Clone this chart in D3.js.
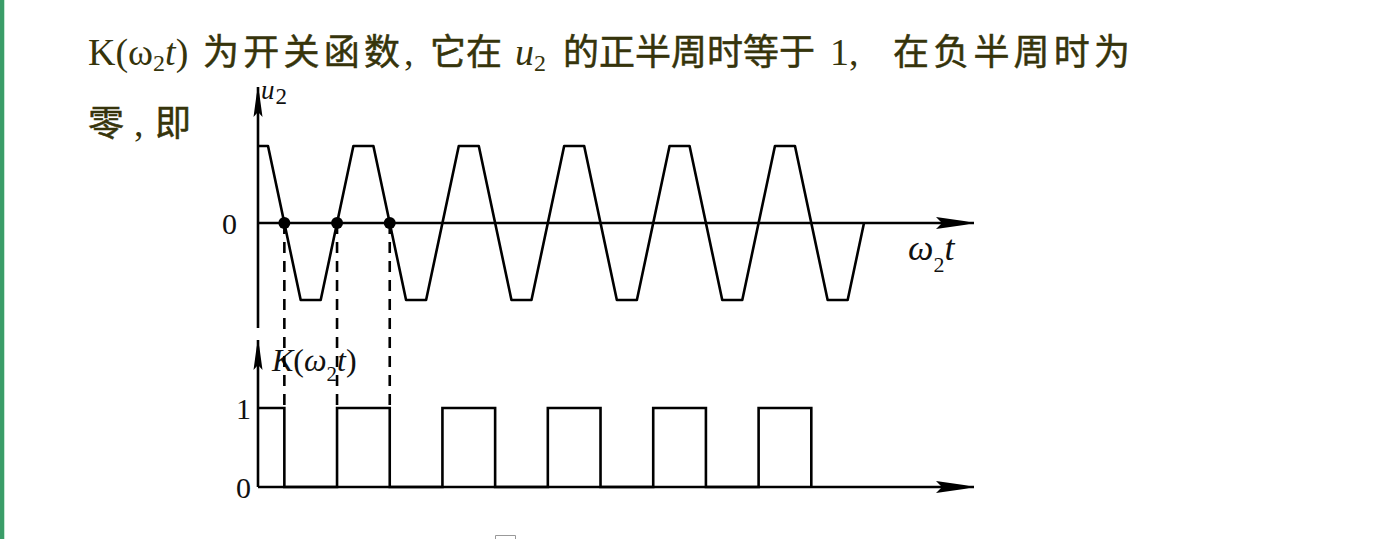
<!DOCTYPE html>
<html>
<head>
<meta charset="utf-8">
<script src="https://cdn.jsdelivr.net/npm/d3@7"></script>
<style>
  body { margin: 0; background: #fff; }
  svg { display: block; }
  .cjk { font-family: "Noto Sans CJK SC", sans-serif; }
  .lat { font-family: "Liberation Serif", "Times New Roman", serif; }
</style>
</head>
<body>
<div id="chart"></div>
<script>
// wave u2 vertices, x in units of pi (omega2 t / pi)
var waveX = [0, 0.19, 0.81, 1.19, 1.81, 2.19, 2.81, 3.19, 3.81, 4.19, 4.81, 5.19,
             5.81, 6.19, 6.81, 7.19, 7.81, 8.19, 8.81, 9.19, 9.81, 10.19, 10.81, 11.19, 11.5];
var waveU = [1, 1, -1, -1, 1, 1, -1, -1, 1, 1, -1, -1,
             1, 1, -1, -1, 1, 1, -1, -1, 1, 1, -1, -1, 0];

// zero crossings that get a dot and a dashed guide
var markedCross = [0.5, 1.5, 2.5];

// switching function K(w2 t): value holds until next switch
var switchX = [0, 0.5, 1.5, 2.5, 3.5, 4.5, 5.5, 6.5, 7.5, 8.5, 9.5, 10.5];
var switchK = [1, 0, 1, 0, 1, 0, 1, 0, 1, 0, 1, 0];

var topTicks = [0];
var botTicks = [0, 1];

var W = 1392, H = 539;
var ink = "#000";
var textCol = "#36340b";
var sw = 2.6;

var svg = d3.select("#chart").append("svg")
    .attr("width", W).attr("height", H);

// green strip on the left edge
svg.append("rect").attr("x", 0).attr("y", 0).attr("width", 4).attr("height", H)
    .attr("fill", "#3a9d68");
svg.append("rect").attr("x", 4).attr("y", 0).attr("width", 1).attr("height", H)
    .attr("fill", "#c4e8d2");

// ---- heading text ----
function seg(x, y, cls, txt, len) {
    var t = svg.append("text").attr("x", x).attr("y", y)
        .attr("class", cls).attr("fill", textCol).style("font-size", "36px").text(txt);
    if (len) t.attr("textLength", len).attr("lengthAdjust", "spacing");
    return t;
}
var l1 = 65, l2 = 136;
var k = svg.append("text").attr("x", 88).attr("y", l1).attr("class", "lat")
    .attr("fill", textCol).style("font-size", "38px");
k.append("tspan").text("K(ω");
k.append("tspan").attr("dy", 6).style("font-size", "24px").text("2");
k.append("tspan").attr("dy", -6).style("font-style", "italic").text("t");
k.append("tspan").text(")");
seg(203, l1, "cjk", "为开关函数", 197);
seg(404, l1, "lat", ",").style("font-size", "38px");
seg(430, l1, "cjk", "它在", 72);
var u = svg.append("text").attr("x", 515).attr("y", l1).attr("class", "lat")
    .attr("fill", textCol).style("font-size", "38px");
u.append("tspan").style("font-style", "italic").text("u");
u.append("tspan").attr("dy", 6).style("font-size", "24px").text("2");
seg(563, l1, "cjk", "的正半周时等于", 252);
seg(830, l1, "lat", "1,").style("font-size", "38px");
seg(893, l1, "cjk", "在负半周时为", 237);
seg(88, l2, "cjk", "零");
seg(134, l2, "lat", ",").style("font-size", "38px");
seg(155, l2, "cjk", "即");
svg.selectAll("text.cjk").style("stroke", textCol).style("stroke-width", 0.5);

// ---- scales ----
var x = d3.scaleLinear().domain([0, 11.5]).range([258, 864]);
var yU = d3.scaleLinear().domain([-1, 1]).range([300, 146]);
var yK = d3.scaleLinear().domain([0, 1]).range([487, 408]);
var xEnd = 974;

// ---- axes ----
function hArrow(y) {
    svg.append("line").attr("x1", x(0)).attr("x2", xEnd).attr("y1", y).attr("y2", y)
        .attr("stroke", ink).attr("stroke-width", sw);
    svg.append("path")
        .attr("d", "M936," + (y - 6) + "L964," + (y - 2) + "L" + xEnd + "," + y +
              "L964," + (y + 2) + "L936," + (y + 6) + "L942," + y + "Z")
        .attr("fill", ink);
}
function vArrow(tip, bottom) {
    var x0 = x(0);
    svg.append("line").attr("x1", x0).attr("x2", x0).attr("y1", tip).attr("y2", bottom)
        .attr("stroke", ink).attr("stroke-width", sw);
    svg.append("path")
        .attr("d", "M" + (x0 - 4.5) + "," + (tip + 30) + "L" + (x0 - 1.5) + "," + (tip + 8) +
              "L" + x0 + "," + tip + "L" + (x0 + 1.5) + "," + (tip + 8) +
              "L" + (x0 + 4.5) + "," + (tip + 30) + "L" + x0 + "," + (tip + 25) + "Z")
        .attr("fill", ink);
}
vArrow(87, 328);
hArrow(yU(0));
vArrow(340, yK(0));
hArrow(yK(0));

// tick labels through d3 axes
var axTop = svg.append("g").attr("transform", "translate(" + x(0) + ",0)")
    .call(d3.axisLeft(yU).tickValues(topTicks).tickSize(0).tickPadding(21).tickFormat(d3.format("d")));
var axBot = svg.append("g").attr("transform", "translate(" + x(0) + ",0)")
    .call(d3.axisLeft(yK).tickValues(botTicks).tickSize(0).tickPadding(7).tickFormat(d3.format("d")));
[axTop, axBot].forEach(function(a) {
    a.select(".domain").remove();
    a.selectAll("text").attr("class", "lat").style("font-size", "30px")
        .attr("fill", "#111").attr("dy", "0.34em");
});

// axis names
var lu = svg.append("text").attr("x", 261).attr("y", 99).attr("class", "lat")
    .attr("fill", "#111").style("font-size", "27px");
lu.append("tspan").style("font-style", "italic").text("u");
lu.append("tspan").attr("dx", 1).attr("dy", 5).style("font-size", "23px").text("2");

var lw = svg.append("text").attr("x", 908).attr("y", 260).attr("class", "lat")
    .attr("fill", "#111").style("font-size", "36px").style("font-style", "italic");
lw.append("tspan").text("ω");
lw.append("tspan").attr("dy", 12).style("font-size", "22px").style("font-style", "normal").text("2");
lw.append("tspan").attr("dy", -12).text("t");

var lk = svg.append("text").attr("x", 272).attr("y", 371).attr("class", "lat")
    .attr("fill", "#111").style("font-size", "32px");
lk.append("tspan").style("font-style", "italic").text("K");
lk.append("tspan").text("(");
lk.append("tspan").style("font-style", "italic").text("ω");
lk.append("tspan").attr("dy", 10).style("font-size", "21px").text("2");
lk.append("tspan").attr("dy", -10).style("font-style", "italic").text("t");
lk.append("tspan").text(")");

// ---- dashed guides ----
svg.append("g").selectAll("line").data(markedCross).enter().append("line")
    .attr("x1", function(d) { return x(d); }).attr("x2", function(d) { return x(d); })
    .attr("y1", yU(0)).attr("y2", yK(1))
    .attr("stroke", ink).attr("stroke-width", sw).attr("stroke-dasharray", "11,8");

// ---- u2 wave ----
var wave = waveX.map(function(v, i) { return [v, waveU[i]]; });
svg.append("path").datum(wave)
    .attr("d", d3.line().x(function(d) { return x(d[0]); }).y(function(d) { return yU(d[1]); }))
    .attr("fill", "none").attr("stroke", ink).attr("stroke-width", sw)
    .attr("stroke-linejoin", "round");

svg.append("g").selectAll("circle").data(markedCross).enter().append("circle")
    .attr("cx", function(d) { return x(d); }).attr("cy", yU(0)).attr("r", 6)
    .attr("fill", ink);

// ---- switching function ----
var pulses = switchX.map(function(v, i) { return [v, switchK[i]]; });
svg.append("path").datum(pulses)
    .attr("d", d3.line().curve(d3.curveStepAfter)
        .x(function(d) { return x(d[0]); }).y(function(d) { return yK(d[1]); }))
    .attr("fill", "none").attr("stroke", ink).attr("stroke-width", sw);

// small grey mark at the bottom edge
svg.append("path").attr("d", "M495.5,539V535.5H515.5V539")
    .attr("fill", "none").attr("stroke", "#999").attr("stroke-width", 1);
</script>
</body>
</html>
